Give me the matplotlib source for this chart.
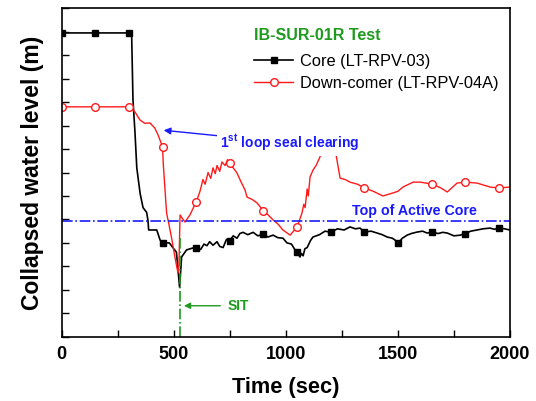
import matplotlib
matplotlib.use('Agg')
import matplotlib.pyplot as plt
from matplotlib.ticker import MultipleLocator

plt.rcParams['font.family'] = ['Liberation Sans', 'DejaVu Sans']
plt.rcParams['mathtext.fontset'] = 'custom'
plt.rcParams['mathtext.rm'] = 'Liberation Sans:bold'
plt.rcParams['mathtext.bf'] = 'Liberation Sans:bold'

# core collapsed level (LT-RPV-03)
core_t = [0, 150, 300, 312, 318, 327, 335, 350, 363, 379, 385, 388, 424, 439, 450,
          480, 512, 526, 535, 557, 584, 600, 620, 635, 648, 660, 675, 693, 705, 720,
          735, 750, 765, 782, 795, 809, 830, 854, 875, 900, 920, 943, 965, 987, 1005,
          1025, 1041, 1050, 1063, 1070, 1077, 1085, 1095, 1110, 1121, 1150, 1175, 1200,
          1230, 1260, 1286, 1310, 1331, 1350, 1380, 1407, 1430, 1452, 1475, 1490, 1500,
          1520, 1541, 1560, 1585, 1610, 1630, 1650, 1680, 1700, 1720, 1750, 1778, 1800,
          1825, 1853, 1880, 1911, 1930, 1950, 1975, 2000]
core_y = [12.95, 12.95, 12.95, 12.9, 10.1, 8.7, 7.2, 6.1, 5.5, 5.3, 4.95, 4.55, 4.55, 4.12, 4.0,
          4.0, 3.6, 2.1, 3.4, 3.7, 3.78, 3.78, 3.72, 3.95, 3.88, 4.05, 3.9, 4.05, 3.85, 3.8,
          4.15, 4.1, 4.3, 4.2, 4.4, 4.45, 4.35, 4.45, 4.3, 4.38, 4.25, 4.33, 4.22, 4.2, 4.0,
          3.95, 3.7, 3.6, 3.4, 3.55, 3.45, 3.75, 3.8, 4.1, 4.25, 4.35, 4.5, 4.45,
          4.6, 4.55, 4.68, 4.6, 4.63, 4.46, 4.5, 4.42, 4.35, 4.25, 4.2, 4.1, 3.99,
          4.2, 4.33, 4.4, 4.46, 4.5, 4.42, 4.46, 4.4, 4.45, 4.42, 4.3, 4.33, 4.4,
          4.5, 4.55, 4.6, 4.63, 4.58, 4.63, 4.6, 4.55]

# down-comer collapsed level (LT-RPV-04A)
dc_t = [0, 150, 300, 315, 327, 349, 370, 394, 415, 430, 450, 453, 461, 468, 479, 492, 506,
        519, 523, 528, 537, 550, 572, 585, 600, 617, 630, 640, 653, 665, 675, 685, 693, 705,
        715, 729, 740, 750, 765, 782, 800, 818, 827, 850, 872, 900, 920, 943, 965, 987,
        1019, 1050, 1072, 1080, 1086, 1095, 1100, 1108, 1121, 1135, 1152, 1170, 1185,
        1200, 1215, 1225, 1242, 1265, 1286, 1320, 1350, 1390, 1433, 1478, 1500, 1524,
        1568, 1599, 1650, 1690, 1720, 1764, 1800, 1853, 1911, 1950, 2000]
dc_y = [9.80, 9.80, 9.80, 9.7, 9.58, 9.24, 9.1, 9.11, 8.9, 8.6, 8.09, 7.4, 6.25, 5.27, 4.76, 4.12, 3.35,
        2.71, 3.0, 5.19, 5.06, 4.89, 5.19, 5.45, 5.74, 6.2, 6.7, 6.5, 7.0, 6.75, 7.2, 6.95, 7.3, 7.05,
        7.45, 7.3, 7.55, 7.4, 7.2, 6.98, 6.6, 6.25, 5.95, 5.85, 5.7, 5.36, 5.2, 4.98, 4.8, 4.55,
        4.33, 4.68, 5.27, 5.65, 5.5, 6.3, 6.0, 6.81, 7.1, 7.3, 7.66, 8.3, 8.6,
        8.4, 8.0, 7.7, 6.76, 6.7, 6.59, 6.5, 6.34, 6.2, 6.0, 6.13, 6.2, 6.39,
        6.59, 6.59, 6.51, 6.35, 6.17, 6.55, 6.59, 6.55, 6.38, 6.34, 6.38]

core_marks = [0, 150, 300, 450, 600, 750, 900, 1050, 1200, 1350, 1500, 1650, 1800, 1950]
dc_marks = [0, 150, 300, 450, 600, 750, 900, 1050, 1350, 1650, 1800, 1950]

tac_level = 4.95
sit_time = 528
green = '#1e9a1e'
blue = '#1a1aff'

fig = plt.figure(figsize=(5.36, 4.01), dpi=100)
ax = fig.add_axes([0.1151, 0.1603, 0.8364, 0.8190])

ax.plot(core_t, core_y, '-', color='k', lw=1.2, marker='s', ms=4,
        markevery=[core_t.index(m) for m in core_marks], label='Core (LT-RPV-03)')
ax.plot(dc_t, dc_y, '-', color='#ff1a1a', lw=1.0, marker='o', ms=5.5, mfc='white',
        mec='#ff1a1a', markevery=[dc_t.index(m) for m in dc_marks],
        label='Down-comer (LT-RPV-04A)')

ax.axhline(tac_level, color=blue, ls='-.', lw=1.2)
ax.text(1572, tac_level + 0.1, 'Top of Active Core', color=blue, fontsize=10.3,
        fontweight='bold', ha='center', va='bottom')

ax.plot([sit_time, sit_time], [0, 4.25], color=green, ls='-.', lw=1.2)
ax.annotate('', xy=(sit_time + 5, 1.32), xytext=(720, 1.32),
            arrowprops=dict(arrowstyle='-|>', color=green, lw=1.0, mutation_scale=9))
ax.text(740, 1.32, 'SIT', color=green, fontsize=10, fontweight='bold', va='center')

ax.annotate(r'1$^{\rm st}$ loop seal clearing', xy=(455, 8.8), xytext=(706, 8.26),
            color=blue, fontsize=10, fontweight='bold', va='center', ha='left',
            bbox=dict(fc='white', ec='none', pad=2),
            arrowprops=dict(arrowstyle='-|>', color=blue, lw=1.0, mutation_scale=10,
                            shrinkA=0, shrinkB=0))

ax.set_xlim(0, 2000)
ax.set_ylim(0, 14)
ax.xaxis.set_major_locator(MultipleLocator(500))
ax.xaxis.set_minor_locator(MultipleLocator(250))
ax.yaxis.set_major_locator(MultipleLocator(1))
ax.tick_params(axis='x', which='both', direction='in', length=5, width=1, top=False)
ax.tick_params(axis='y', which='both', direction='in', length=5, width=1, right=False,
               labelleft=False)
for lab in ax.get_xticklabels():
    lab.set_fontweight('bold')
    lab.set_fontsize(13)
ax.tick_params(axis='x', pad=7)
for s in ax.spines.values():
    s.set_linewidth(1.2)

ax.set_xlabel('Time (sec)', fontsize=15.7, fontweight='bold', labelpad=10)
ax.set_ylabel('Collapsed water level (m)', fontsize=16.5, fontweight='bold', labelpad=13)

leg = ax.legend(loc='upper right', bbox_to_anchor=(1.0, 0.975), frameon=False,
                fontsize=11.8, handlelength=2.4, title='IB-SUR-01R Test', alignment='left',
                borderaxespad=0.3, labelspacing=0.4, handletextpad=0.4)
leg.get_title().set_color(green)
leg.get_title().set_fontweight('bold')
leg.get_title().set_fontsize(11.5)
leg._legend_box.sep = 8

fig.savefig('out.png', dpi=100)
